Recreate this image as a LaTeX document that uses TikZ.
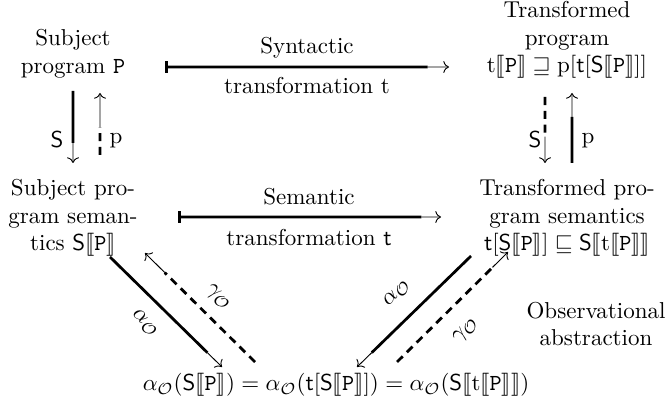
\documentclass[tikz,border=0pt]{standalone}
\usepackage{amssymb}
\usepackage{stmaryrd}
\usetikzlibrary{arrows.meta,calc}
\DeclareMathAlphabet{\mathbbl}{U}{bbold}{m}{n}
\newcommand\Pp{\mathtt{P}}
\newcommand\Ss{\mathsf{S}}
\newcommand\tts{\mathsf{t}}
\newcommand\aO{\alpha_{\mathcal{O}}}
\newcommand\gO{\gamma_{\mathcal{O}}}
\newcommand\sem[1]{\llbracket #1\rrbracket}
\begin{document}
\begin{tikzpicture}[x=0.4348pt,y=-0.4348pt,
  txt/.style={align=center, inner sep=0pt},
  lbl/.style={inner sep=0pt},
  thinarr/.style={line width=0.4pt, -{To}},
  heavy/.style={line width=1.2pt},
  heavydash/.style={line width=1.2pt, dash pattern=on 3.5pt off 2.5pt}]
\useasboundingbox (0,0) rectangle (669,404);

% main nodes
\node[txt] (sp) at (73,54) {Subject\\program $\Pp$};
\node[txt] (tp) at (567,40) {Transformed\\program\\$\mathbbl{t}\sem{\Pp} \sqsupseteq \mathbbl{p}[\tts[\Ss\sem{\Pp}]]$};
\node[txt] (ss) at (73,218) {Subject pro-\\gram seman-\\tics $\Ss\sem{\Pp}$};
\node[txt] (ts) at (567,218) {Transformed pro-\\gram semantics\\$\tts[\Ss\sem{\Pp}] \sqsubseteq \Ss\sem{\mathbbl{t}\sem{\Pp}}$};
\node[txt] (ob) at (596,324) {Observational\\abstraction};
\node[txt] (ab) at (336,385) {$\aO(\Ss\sem{\Pp}) = \aO(\tts[\Ss\sem{\Pp}]) = \aO(\Ss\sem{\mathbbl{t}\sem{\Pp}})$};

% horizontal arrows
\coordinate (h1s) at (165,67); \coordinate (h1e) at (449,67);
\draw[heavy,{Bar[width=5pt]}-] (h1s) -- ($(h1s)!0.925!(h1e)$) coordinate (h1m);
\draw[thinarr] (h1m) -- (h1e);
\node[lbl] (syn) at (307,48) {Syntactic};
\node[lbl] (syt) at (307,86) {transformation $\mathbbl{t}$};

\coordinate (h2s) at (178,217); \coordinate (h2e) at (441,217);
\draw[heavy,{Bar[width=5pt]}-] (h2s) -- ($(h2s)!0.925!(h2e)$) coordinate (h2m);
\draw[thinarr] (h2m) -- (h2e);
\node[lbl] (sem) at (309,197) {Semantic};
\node[lbl] (set) at (309,238) {transformation $\tts$};

% left verticals
\coordinate (v1a) at (73,91); \coordinate (v1b) at (73,163);
\draw[heavy] (v1a) -- ($(v1a)!0.72!(v1b)$) coordinate (v1m);
\draw[thinarr] (v1m) -- (v1b);
\node[lbl] (lS) at (57,140) {$\Ss$};
\coordinate (v2a) at (100,155); \coordinate (v2b) at (100,93);
\draw[heavydash] (v2a) -- ($(v2a)!0.45!(v2b)$) coordinate (v2m);
\draw[thinarr] (v2m) -- (v2b);
\node[lbl] (lp) at (116,141) {$\mathbbl{p}$};

% right verticals
\coordinate (v3a) at (545,97); \coordinate (v3b) at (545,163);
\draw[heavydash] (v3a) -- ($(v3a)!0.6!(v3b)$) coordinate (v3m);
\draw[thinarr] (v3m) -- (v3b);
\node[lbl] (rS) at (535,140) {$\Ss$};
\coordinate (v4a) at (572,163); \coordinate (v4b) at (572,93);
\draw[heavy] (v4a) -- ($(v4a)!0.66!(v4b)$) coordinate (v4m);
\draw[thinarr] (v4m) -- (v4b);
\node[lbl] (rp) at (588,141) {$\mathbbl{p}$};

% diagonals
\coordinate (d1a) at (110,257); \coordinate (d1b) at (222,367);
\draw[heavy] (d1a) -- ($(d1a)!0.87!(d1b)$) coordinate (d1m);
\draw[thinarr] (d1m) -- (d1b);
\coordinate (d2a) at (255,362); \coordinate (d2b) at (145,253);
\draw[heavydash] (d2a) -- ($(d2a)!0.82!(d2b)$) coordinate (d2m);
\draw[thinarr] (d2m) -- (d2b);
\coordinate (d3a) at (471,256); \coordinate (d3b) at (357,367);
\draw[heavy] (d3a) -- ($(d3a)!0.87!(d3b)$) coordinate (d3m);
\draw[thinarr] (d3m) -- (d3b);
\coordinate (d4a) at (397,362); \coordinate (d4b) at (508,252);
\draw[heavydash] (d4a) -- ($(d4a)!0.86!(d4b)$) coordinate (d4m);
\draw[thinarr] (d4m) -- (d4b);

\node[lbl,rotate=-45] (g1) at (218,298) {$\gO$};
\node[lbl,rotate=-45] (a1) at (145,323) {$\aO$};
\node[lbl,rotate=45] (a2) at (397,293) {$\aO$};
\node[lbl,rotate=45] (g2) at (466,331) {$\gO$};
\end{tikzpicture}
\end{document}
